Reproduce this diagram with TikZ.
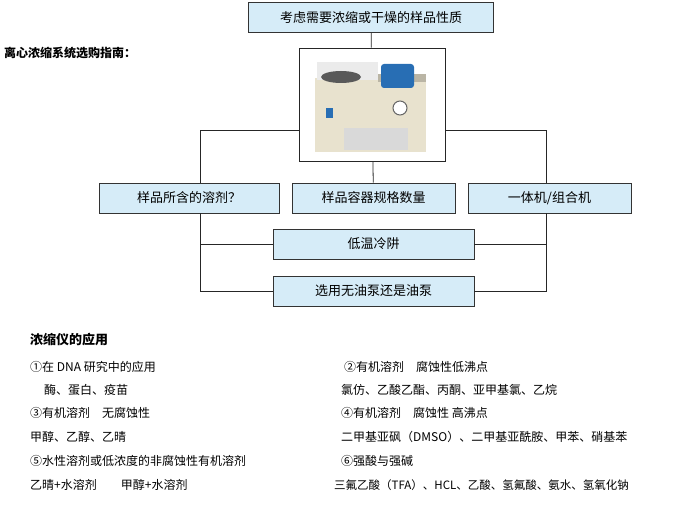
\documentclass[tikz,border=0pt]{standalone}
\usepackage{fontspec}
\setmainfont{Noto Sans CJK SC}
\definecolor{boxblue}{RGB}{214,236,248}
\definecolor{devbeige}{RGB}{232,226,206}
\definecolor{devblue}{RGB}{40,110,180}
\tikzset{
  choice/.style={draw=black!80, fill=boxblue, line width=0.8pt, minimum height=30pt, font=\fontsize{13}{15}\selectfont, inner sep=0pt},
  link/.style={draw=black!85, line width=0.8pt},
  appline/.style={anchor=west, font=\fontsize{12}{14}\selectfont, inner sep=0pt}
}
\begin{document}
\begin{tikzpicture}[x=1pt,y=-1pt]
  \useasboundingbox (0,0) rectangle (678,508);
  % decision boxes
  \node[choice, minimum width=245pt] (prop) at (371,17.5) {考虑需要浓缩或干燥的样品性质};
  \node[anchor=west, inner sep=0pt, font=\fontsize{12}{14}\selectfont\bfseries] (title) at (4,53) {离心浓缩系统选购指南：};
  \node[draw=black!85, line width=0.8pt, minimum width=146pt, minimum height=113pt, inner sep=0pt] (photo) at (372,104.5) {};
  \node[choice, minimum width=180pt] (solvent) at (189,198) {样品所含的溶剂？};
  \node[choice, minimum width=163pt] (vessel) at (373.5,198) {样品容器规格数量};
  \node[choice, minimum width=163pt] (unit) at (549.5,198) {一体机/组合机};
  \node[choice, minimum width=201pt] (trap) at (373.5,244) {低温冷阱};
  \node[choice, minimum width=201pt] (pump) at (373.5,291) {选用无油泵还是油泵};
  % the device in the photo
  \fill[devbeige] (315,78) rectangle (426,152);
  \fill[black!8] (317,62) rectangle (378,80);
  \fill[black!65] (341,77) ellipse (20 and 6);
  \fill[devbeige!80!black] (378,74) rectangle (426,82);
  \fill[devblue, rounded corners=3pt] (381,64) rectangle (414,88);
  \draw[black!60, fill=white, line width=1pt] (400,108) circle (7);
  \fill[black!15] (344,128) rectangle (408,150);
  \fill[devblue] (326,108) rectangle (333,118);
  % connectors
  \draw[link] (prop) -- (photo);
  \draw[link] (photo) -- (vessel);
  \draw[link] (photo.west |- 0,130) -| (solvent.north -| 200,0);
  \draw[link] (photo.east |- 0,130) -| (unit.north -| 546,0);
  \draw[link] (solvent.south -| 200,0) |- (pump.west);
  \draw[link] (200,244) -- (trap.west);
  \draw[link] (unit.south -| 546,0) |- (pump.east);
  \draw[link] (546,244) -- (trap.east);
  % applications
  \node[appline, font=\fontsize{13}{15}\selectfont\bfseries] (apps) at (30,340) {浓缩仪的应用};
  \node[appline] (a1) at (30,367) {①在 DNA 研究中的应用};
  \node[appline] (a1t) at (44,390) {酶、蛋白、疫苗};
  \node[appline] (a3) at (30,413) {③有机溶剂\quad 无腐蚀性};
  \node[appline] (a3t) at (30,437) {甲醇、乙醇、乙晴};
  \node[appline] (a5) at (30,461) {⑤水性溶剂或低浓度的非腐蚀性有机溶剂};
  \node[appline] (a5t) at (30,485) {乙晴+水溶剂\qquad 甲醇+水溶剂};
  \node[appline] (a2) at (344,367) {②有机溶剂\quad 腐蚀性低沸点};
  \node[appline] (a2t) at (341,390) {氯仿、乙酸乙酯、丙酮、亚甲基氯、乙烷};
  \node[appline] (a4) at (341,413) {④有机溶剂\quad 腐蚀性 高沸点};
  \node[appline] (a4t) at (341,437) {二甲基亚砜（DMSO）、二甲基亚酰胺、甲苯、硝基苯};
  \node[appline] (a6) at (341,461) {⑥强酸与强碱};
  \node[appline, font=\fontsize{11.5}{14}\selectfont] (a6t) at (334,485) {三氟乙酸（TFA）、HCL、乙酸、氢氟酸、氨水、氢氧化钠};
\end{tikzpicture}
\end{document}
